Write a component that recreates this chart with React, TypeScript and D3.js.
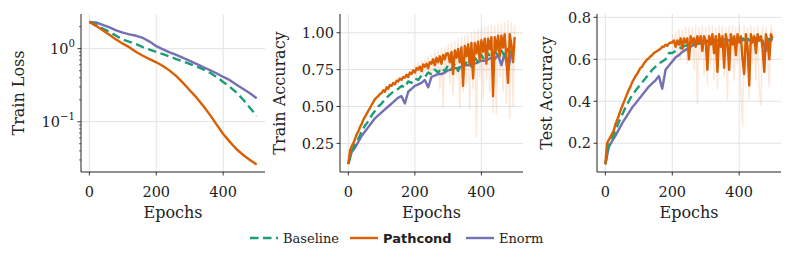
import React from 'react';
import * as d3 from 'd3';

// ---- data ----
const lossEpochs = d3.range(0, 501, 20);
const lossBaseline = [2.32, 2.15, 1.88, 1.7, 1.5, 1.33, 1.24, 1.15, 1.05, 0.97, 0.9, 0.84, 0.78, 0.72, 0.67, 0.62, 0.57, 0.52, 0.47, 0.41, 0.35, 0.3, 0.25, 0.2, 0.155, 0.12];
const lossPathcond = [2.32, 2.05, 1.78, 1.55, 1.33, 1.17, 1.04, 0.9, 0.8, 0.72, 0.65, 0.58, 0.5, 0.42, 0.34, 0.27, 0.215, 0.165, 0.125, 0.092, 0.068, 0.053, 0.042, 0.035, 0.03, 0.026];
const lossEnorm = [2.32, 2.28, 2.12, 1.95, 1.78, 1.66, 1.57, 1.5, 1.4, 1.25, 1.08, 0.98, 0.89, 0.82, 0.75, 0.68, 0.62, 0.56, 0.51, 0.46, 0.41, 0.37, 0.32, 0.28, 0.245, 0.21];

const fineEpochs = d3.range(0, 501, 5);
const coarseEpochs = d3.range(0, 501, 10);
const runEpochs = d3.range(200, 501, 5);

const trainPathcond = [
  0.11, 0.2, 0.23, 0.25, 0.28, 0.31, 0.33, 0.36, 0.38, 0.41, 0.43, 0.45, 0.47, 0.49, 0.51, 0.53, 0.55, 0.56, 0.57, 0.585,
  0.59, 0.61, 0.6, 0.63, 0.62, 0.645, 0.64, 0.66, 0.65, 0.675, 0.67, 0.69, 0.68, 0.7, 0.695, 0.715, 0.7, 0.73, 0.72, 0.745,
  0.73, 0.76, 0.75, 0.77, 0.74, 0.785, 0.77, 0.79, 0.76, 0.8, 0.79, 0.82, 0.78, 0.83, 0.8, 0.84, 0.79, 0.85, 0.82, 0.86,
  0.86, 0.8, 0.87, 0.72, 0.88, 0.83, 0.89, 0.8, 0.9, 0.64, 0.91, 0.84, 0.92, 0.78, 0.93, 0.69, 0.93, 0.86, 0.94, 0.81,
  0.95, 0.87, 0.96, 0.79, 0.96, 0.89, 0.97, 0.57, 0.97, 0.88, 0.98, 0.84, 0.98, 0.9, 0.99, 0.83, 0.66, 0.99, 0.92, 0.8, 0.97,
];
const trainPathcondRun = [
  0.78, 0.7, 0.8, 0.72, 0.81, 0.7, 0.82, 0.74, 0.84, 0.66, 0.85, 0.73, 0.87, 0.7, 0.88, 0.62, 0.89, 0.49, 0.9, 0.72,
  0.92, 0.65, 0.93, 0.58, 0.94, 0.7, 0.96, 0.49, 0.97, 0.6, 0.98, 0.66, 0.99, 0.48, 1.0, 0.62, 1.01, 0.29, 1.02, 0.7,
  1.03, 0.55, 1.04, 0.68, 1.04, 0.6, 1.05, 0.46, 1.05, 0.45, 1.06, 0.7, 1.06, 0.6, 1.07, 0.52, 1.08, 0.42, 1.07, 0.5, 1.05,
];
const trainBaseline = [
  0.11, 0.2, 0.24, 0.28, 0.33, 0.37, 0.4, 0.44, 0.47, 0.5, 0.52, 0.55, 0.57, 0.59, 0.61, 0.62, 0.64, 0.63, 0.67, 0.66,
  0.69, 0.68, 0.71, 0.7, 0.73, 0.72, 0.75, 0.73, 0.76, 0.74, 0.78, 0.75, 0.79, 0.74, 0.8, 0.78, 0.82, 0.77, 0.83, 0.8,
  0.85, 0.81, 0.86, 0.83, 0.87, 0.85, 0.88, 0.84, 0.89, 0.86, 0.91,
];
const trainEnorm = [
  0.11, 0.19, 0.22, 0.26, 0.3, 0.33, 0.36, 0.39, 0.42, 0.44, 0.46, 0.48, 0.5, 0.52, 0.54, 0.56, 0.57, 0.52, 0.6, 0.62,
  0.64, 0.65, 0.66, 0.68, 0.63, 0.7, 0.71, 0.72, 0.72, 0.73, 0.745, 0.75, 0.76, 0.76, 0.77, 0.78, 0.78, 0.79, 0.79, 0.8,
  0.81, 0.81, 0.82, 0.83, 0.82, 0.85, 0.78, 0.86, 0.74, 0.87, 0.88,
];

const testPathcond = [
  0.1, 0.2, 0.215, 0.23, 0.245, 0.26, 0.29, 0.31, 0.33, 0.355, 0.375, 0.395, 0.415, 0.435, 0.455, 0.47, 0.49, 0.505, 0.52, 0.53,
  0.545, 0.56, 0.565, 0.58, 0.59, 0.6, 0.605, 0.615, 0.62, 0.63, 0.635, 0.64, 0.645, 0.65, 0.66, 0.66, 0.67, 0.665, 0.675, 0.68,
  0.68, 0.69, 0.66, 0.69, 0.67, 0.7, 0.65, 0.7, 0.68, 0.7, 0.6, 0.71, 0.68, 0.7, 0.66, 0.71, 0.68, 0.71, 0.64, 0.71,
  0.69, 0.55, 0.71, 0.67, 0.72, 0.63, 0.71, 0.54, 0.72, 0.66, 0.71, 0.56, 0.72, 0.68, 0.55, 0.72, 0.67, 0.71, 0.62, 0.72,
  0.68, 0.71, 0.6, 0.53, 0.72, 0.66, 0.475, 0.72, 0.68, 0.71, 0.63, 0.72, 0.69, 0.71, 0.65, 0.54, 0.72, 0.68, 0.6, 0.72, 0.7,
];
const testPathcondRun = [
  0.72, 0.64, 0.73, 0.62, 0.74, 0.6, 0.74, 0.63, 0.75, 0.58, 0.75, 0.62, 0.75, 0.55, 0.76, 0.39, 0.75, 0.6, 0.76, 0.52,
  0.75, 0.48, 0.76, 0.58, 0.76, 0.5, 0.75, 0.46, 0.76, 0.6, 0.76, 0.52, 0.75, 0.41, 0.76, 0.55, 0.76, 0.5, 0.75, 0.58,
  0.76, 0.44, 0.28, 0.76, 0.55, 0.75, 0.41, 0.76, 0.58, 0.75, 0.5, 0.76, 0.45, 0.38, 0.76, 0.55, 0.75, 0.6, 0.47, 0.76, 0.72,
];
const testBaseline = [
  0.1, 0.19, 0.22, 0.26, 0.3, 0.335, 0.37, 0.4, 0.43, 0.45, 0.47, 0.49, 0.51, 0.53, 0.55, 0.565, 0.58, 0.59, 0.6, 0.63,
  0.63, 0.64, 0.65, 0.66, 0.665, 0.67, 0.675, 0.68, 0.68, 0.685, 0.685, 0.69, 0.69, 0.685, 0.69, 0.69, 0.695, 0.69, 0.695, 0.69,
  0.695, 0.7, 0.69, 0.7, 0.695, 0.7, 0.69, 0.7, 0.7, 0.695, 0.7,
];
const testEnorm = [
  0.1, 0.18, 0.21, 0.235, 0.265, 0.295, 0.32, 0.345, 0.37, 0.39, 0.41, 0.43, 0.45, 0.47, 0.485, 0.5, 0.52, 0.46, 0.55, 0.57,
  0.59, 0.61, 0.62, 0.635, 0.645, 0.655, 0.665, 0.67, 0.675, 0.68, 0.68, 0.685, 0.69, 0.69, 0.69, 0.69, 0.695, 0.69, 0.695, 0.695,
  0.695, 0.69, 0.695, 0.69, 0.695, 0.69, 0.695, 0.69, 0.64, 0.695, 0.69,
];

const xTicks = [0, 200, 400];
const lossMajorTicks = [0.1, 1];
const lossMinorTicks = [0.03, 0.04, 0.05, 0.06, 0.07, 0.08, 0.09, 0.2, 0.3, 0.4, 0.5, 0.6, 0.7, 0.8, 0.9, 2];
const trainTicks = [0.25, 0.5, 0.75, 1.0];
const testTicks = [0.2, 0.4, 0.6, 0.8];

const legendItems = ['Baseline', 'Pathcond', 'Enorm'];

// ---- style ----
const GREEN = '#1b9e77';
const ORANGE = '#d95f02';
const PURPLE = '#7570b3';
const SERIF = 'DejaVu Serif, serif';
const SANS = 'DejaVu Sans, sans-serif';
const TICK_FS = 14.5;
const LABEL_FS = 16;
const LW = 2.4;
const DASH = '8.5,4.5';

const top = 14;
const bottom = 172;

type Series = { epochs: number[]; values: number[]; color: string; dash?: string; width?: number; opacity?: number };

function Panel(props: {
  left: number; right: number; y: any; yTicks: number[]; yLabels: (v: number) => React.ReactNode;
  minor?: number[]; label: string; labelX: number; series: Series[];
}) {
  const { left, right, y, yTicks, yLabels, minor, label, labelX, series } = props;
  const x = d3.scaleLinear().domain([-25, 525]).range([left, right]);
  const line = d3.line<[number, number]>().x(d => x(d[0])).y(d => y(d[1]));
  const clipId = `clip-${left}`;
  return (
    <g>
      <defs>
        <clipPath id={clipId}>
          <rect x={left} y={top} width={right - left} height={bottom - top} />
        </clipPath>
      </defs>
      {/* grid */}
      {xTicks.map(t => (
        <line key={'gx' + t} x1={x(t)} x2={x(t)} y1={top} y2={bottom} stroke="#e3e3e3" strokeWidth={1} />
      ))}
      {yTicks.map(t => (
        <line key={'gy' + t} x1={left} x2={right} y1={y(t)} y2={y(t)} stroke="#e3e3e3" strokeWidth={1} />
      ))}
      {/* lines */}
      <g clipPath={`url(#${clipId})`}>
        {series.map((s, i) => (
          <path
            key={i}
            d={line(s.epochs.map((e, j) => [e, s.values[j]] as [number, number])) || ''}
            fill="none"
            stroke={s.color}
            strokeWidth={s.width ?? LW}
            strokeOpacity={s.opacity ?? 1}
            strokeDasharray={s.dash}
            strokeLinejoin="round"
          />
        ))}
      </g>
      {/* spines */}
      <line x1={left} x2={left} y1={top} y2={bottom} stroke="#222" strokeWidth={1} />
      <line x1={left} x2={right} y1={bottom} y2={bottom} stroke="#222" strokeWidth={1} />
      {/* x ticks */}
      {xTicks.map(t => (
        <g key={'xt' + t}>
          <line x1={x(t)} x2={x(t)} y1={bottom} y2={bottom + 3.5} stroke="#222" strokeWidth={0.9} />
          <text x={x(t)} y={197} textAnchor="middle" fontFamily={SERIF} fontSize={TICK_FS} fill="#222">{t}</text>
        </g>
      ))}
      {/* y ticks */}
      {yTicks.map(t => (
        <g key={'yt' + t}>
          <line x1={left - 3.5} x2={left} y1={y(t)} y2={y(t)} stroke="#222" strokeWidth={0.9} />
          <text x={left - 6} y={y(t)} dy="0.36em" textAnchor="end" fontFamily={SERIF} fontSize={TICK_FS} fill="#222">{yLabels(t)}</text>
        </g>
      ))}
      {(minor || []).map(t => (
        <line key={'ym' + t} x1={left - 2} x2={left} y1={y(t)} y2={y(t)} stroke="#222" strokeWidth={0.7} />
      ))}
      <text x={(left + right) / 2} y={218} textAnchor="middle" fontFamily={SERIF} fontSize={LABEL_FS} fill="#222">Epochs</text>
      <text transform={`translate(${labelX},${(top + bottom) / 2}) rotate(-90)`} dy="0.36em" textAnchor="middle" fontFamily={SERIF} fontSize={LABEL_FS} fill="#222">{label}</text>
    </g>
  );
}

export default function App() {
  const yLoss = d3.scaleLog().domain([0.0205, 2.98]).range([bottom, top]);
  const yTrain = d3.scaleLinear().domain([0.056, 1.127]).range([bottom, top]);
  const yTest = d3.scaleLinear().domain([0.063, 0.816]).range([bottom, top]);

  const logLabel = (v: number) => (
    <>
      <tspan>10</tspan>
      <tspan dy={-6.5} fontSize={TICK_FS * 0.7}>{v === 1 ? '0' : '\u22121'}</tspan>
    </>
  );
  const fmt2 = (v: number) => v.toFixed(2);
  const fmt1 = (v: number) => v.toFixed(1);

  const legendX = [250, 350, 466];
  const legendColors = [GREEN, ORANGE, PURPLE];
  const legendY = 238;

  return (
    <svg width={793} height={263} style={{ position: 'absolute', left: 0, top: 0, background: '#fff' }}>
      <rect width={793} height={263} fill="#fff" />
      <Panel
        left={81} right={265} y={yLoss} yTicks={lossMajorTicks} yLabels={logLabel} minor={lossMinorTicks}
        label="Train Loss" labelX={18}
        series={[
          { epochs: lossEpochs, values: lossEnorm, color: PURPLE },
          { epochs: lossEpochs, values: lossBaseline, color: GREEN, dash: DASH },
          { epochs: lossEpochs, values: lossPathcond, color: ORANGE },
        ]}
      />
      <Panel
        left={340} right={523} y={yTrain} yTicks={trainTicks} yLabels={fmt2}
        label="Train Accuracy" labelX={279}
        series={[
          { epochs: runEpochs, values: trainPathcondRun, color: ORANGE, width: 1.5, opacity: 0.14 },
          { epochs: coarseEpochs, values: trainEnorm, color: PURPLE },
          { epochs: coarseEpochs, values: trainBaseline, color: GREEN, dash: DASH },
          { epochs: fineEpochs, values: trainPathcond, color: ORANGE },
        ]}
      />
      <Panel
        left={597} right={781} y={yTest} yTicks={testTicks} yLabels={fmt1}
        label="Test Accuracy" labelX={546.5}
        series={[
          { epochs: runEpochs, values: testPathcondRun, color: ORANGE, width: 1.5, opacity: 0.14 },
          { epochs: coarseEpochs, values: testEnorm, color: PURPLE },
          { epochs: coarseEpochs, values: testBaseline, color: GREEN, dash: DASH },
          { epochs: fineEpochs, values: testPathcond, color: ORANGE },
        ]}
      />
      {/* legend */}
      {legendItems.map((name, i) => (
        <g key={name}>
          <line x1={legendX[i]} x2={legendX[i] + 28} y1={legendY} y2={legendY} stroke={legendColors[i]} strokeWidth={LW}
            strokeDasharray={i === 0 ? DASH : undefined} />
          <text x={legendX[i] + 33} y={legendY} dy="0.36em"
            fontFamily={i === 1 ? SANS : SERIF} fontWeight={i === 1 ? 'bold' : 'normal'} fontSize={13} fill="#222">{name}</text>
        </g>
      ))}
    </svg>
  );
}
